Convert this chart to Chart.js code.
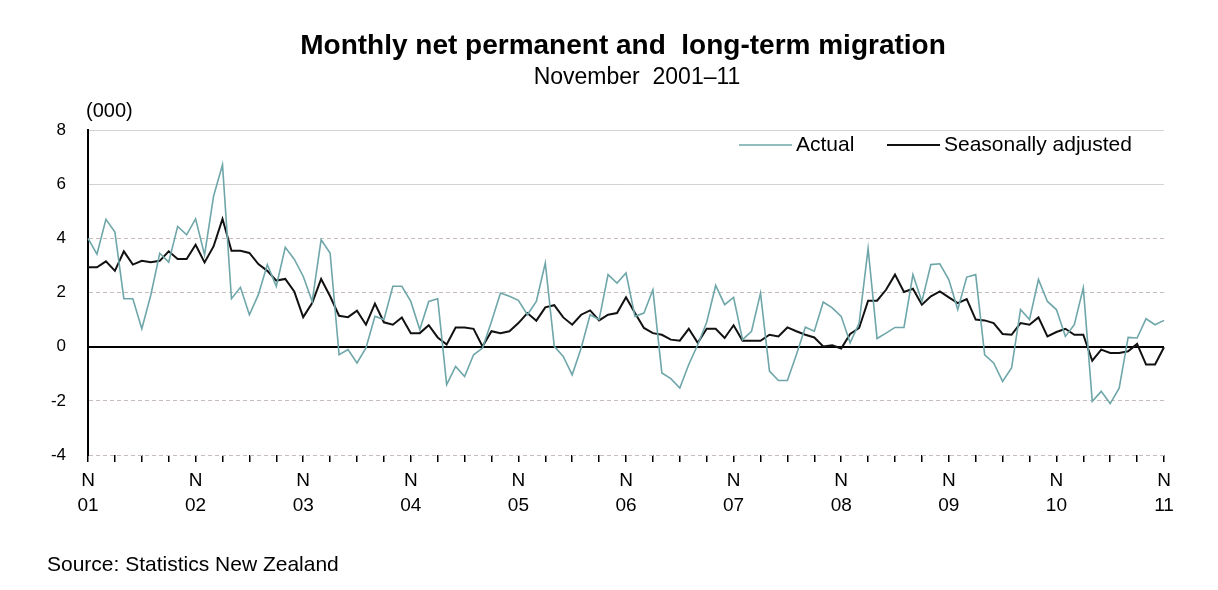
<!DOCTYPE html>
<html>
<head>
<meta charset="utf-8">
<title>Monthly net permanent and long-term migration</title>
<script src="https://cdn.jsdelivr.net/npm/chart.js@4.4.0/dist/chart.umd.min.js"></script>
<style>
  html, body { margin: 0; padding: 0; background: #fff; }
  #wrap { position: relative; width: 1218px; height: 590px; }
</style>
</head>
<body>
<div id="wrap"><canvas id="chart"></canvas></div>
<script>
// ---------- data (thousands) ----------
const yearLabels = ['01', '02', '03', '04', '05', '06', '07', '08', '09', '10', '11'];
const yTicks = [-4, -2, 0, 2, 4, 6, 8];

const actual = [
  4.0, 3.42, 4.7, 4.23, 1.77, 1.77, 0.66, 1.9, 3.45, 3.12,
  4.44, 4.13, 4.72, 3.39, 5.55, 6.72, 1.77, 2.19, 1.18, 1.92,
  3.03, 2.23, 3.67, 3.23, 2.6, 1.67, 3.95, 3.46, -0.3, -0.11,
  -0.6, -0.05, 1.12, 1.0, 2.23, 2.23, 1.67, 0.63, 1.67, 1.77,
  -1.4, -0.73, -1.1, -0.3, -0.05, 0.93, 1.98, 1.86, 1.71, 1.18,
  1.67, 3.09, 0.01, -0.36, -1.04, -0.05, 1.18, 1.0, 2.66, 2.35,
  2.72, 1.12, 1.24, 2.1, -0.97, -1.18, -1.53, -0.66, 0.07, 0.9,
  2.26, 1.55, 1.82, 0.26, 0.57, 1.98, -0.9, -1.25, -1.25, -0.3,
  0.72, 0.57, 1.65, 1.43, 1.12, 0.14, 0.87, 3.62, 0.3, 0.5,
  0.71, 0.71, 2.66, 1.67, 3.03, 3.06, 2.48, 1.37, 2.57, 2.66,
  -0.3, -0.6, -1.28, -0.79, 1.37, 1.0, 2.48, 1.67, 1.37, 0.38,
  0.81, 2.17, -2.02, -1.65, -2.1, -1.53, 0.34, 0.32, 1.03, 0.81,
  0.97
];

const seasonallyAdjusted = [
  2.93, 2.93, 3.15, 2.8, 3.52, 3.03, 3.17, 3.12, 3.17, 3.52,
  3.24, 3.24, 3.76, 3.11, 3.7, 4.72, 3.54, 3.54, 3.46, 3.05,
  2.8, 2.44, 2.5, 2.04, 1.09, 1.61, 2.5, 1.86, 1.14, 1.09,
  1.33, 0.81, 1.59, 0.9, 0.81, 1.08, 0.5, 0.5, 0.79, 0.34,
  0.08, 0.71, 0.71, 0.66, 0.01, 0.57, 0.5, 0.57, 0.87, 1.24,
  0.96, 1.45, 1.53, 1.08, 0.81, 1.18, 1.34, 0.97, 1.18, 1.24,
  1.82, 1.24, 0.69, 0.5, 0.44, 0.26, 0.22, 0.66, 0.14, 0.66,
  0.66, 0.32, 0.79, 0.22, 0.22, 0.22, 0.44, 0.38, 0.71, 0.57,
  0.44, 0.34, 0.01, 0.05, -0.07, 0.47, 0.69, 1.7, 1.7, 2.1,
  2.66, 2.02, 2.14, 1.55, 1.86, 2.04, 1.82, 1.61, 1.76, 1.0,
  0.97, 0.87, 0.47, 0.44, 0.87, 0.81, 1.08, 0.38, 0.54, 0.66,
  0.44, 0.44, -0.52, -0.11, -0.23, -0.23, -0.17, 0.1, -0.66, -0.66,
  -0.02
];

// monthly categories, Nov 2001 .. Nov 2011
const monthNames = ['Jan', 'Feb', 'Mar', 'Apr', 'May', 'Jun', 'Jul', 'Aug', 'Sep', 'Oct', 'Nov', 'Dec'];
const months = [];
for (let i = 0; i < actual.length; i++) {
  const m = (10 + i) % 12;
  const y = 2001 + Math.floor((10 + i) / 12);
  months.push(monthNames[m] + ' ' + y);
}

// ---------- texts drawn around the plot ----------
const FONT = '"Liberation Sans", Arial, sans-serif';
const textPlugin = {
  id: 'textPlugin',
  afterDraw(chart) {
    const ctx = chart.ctx;
    ctx.save();
    ctx.fillStyle = '#000';
    ctx.textBaseline = 'middle';

    ctx.textAlign = 'center';
    ctx.font = 'bold 28px ' + FONT;
    ctx.fillText('Monthly net permanent and  long-term migration', 623, 46);
    ctx.font = '23px ' + FONT;
    ctx.fillText('November  2001\u201311', 637, 78);

    ctx.textAlign = 'left';
    ctx.font = '20px ' + FONT;
    ctx.fillText('(000)', 86, 111);
    ctx.font = '21px ' + FONT;
    ctx.fillText('Source: Statistics New Zealand', 47, 565);

    // legend inside the plot, top right
    const legendX = [739, 887];
    ctx.font = '21px ' + FONT;
    chart.data.datasets.forEach((ds, i) => {
      const x = legendX[i];
      ctx.strokeStyle = ds.borderColor;
      ctx.lineWidth = ds.borderWidth;
      ctx.beginPath();
      ctx.moveTo(x, 145);
      ctx.lineTo(x + 53, 145);
      ctx.stroke();
      ctx.fillText(ds.label, x + 57, 145);
    });
    ctx.restore();
  }
};

Chart.defaults.font.family = FONT;
Chart.defaults.color = '#000';

new Chart(document.getElementById('chart'), {
  type: 'line',
  data: {
    labels: months,
    datasets: [
      {
        label: 'Actual',
        data: actual,
        borderColor: '#6ea6a9',
        borderWidth: 1.6,
        pointRadius: 0,
        tension: 0,
      },
      {
        label: 'Seasonally adjusted',
        data: seasonallyAdjusted,
        borderColor: '#111',
        borderWidth: 2,
        pointRadius: 0,
        tension: 0,
      },
    ],
  },
  options: {
    responsive: true,
    maintainAspectRatio: false,
    animation: false,
    layout: { padding: { left: 0, top: 130, right: 54, bottom: 55 } },
    plugins: {
      legend: { display: false },
      tooltip: { enabled: false },
    },
    scales: {
      x: {
        offset: false,
        afterFit: (scale) => { scale.height = 80; },
        border: { display: false },
        grid: {
          drawOnChartArea: false,
          drawTicks: true,
          tickLength: 7,
          lineWidth: 1.5,
          tickColor: (ctx) => (ctx.index % 3 === 0 ? '#000' : 'rgba(0,0,0,0)'),
        },
        ticks: {
          autoSkip: false,
          maxRotation: 0,
          minRotation: 0,
          padding: 6,
          font: { size: 19, lineHeight: 1.316 },
          callback: (value, index) => (index % 12 === 0 ? ['N', yearLabels[index / 12]] : ''),
        },
      },
      y: {
        min: -4,
        max: 8,
        afterFit: (scale) => { scale.width = 88; },
        afterBuildTicks: (scale) => { scale.ticks = yTicks.map((v) => ({ value: v })); },
        border: {
          display: true,
          color: '#000',
          width: 2,
          dash: (ctx) => (ctx.tick && [4, 2, -2, -4].includes(ctx.tick.value) ? [4, 3] : []),
        },
        grid: {
          drawTicks: false,
          color: (ctx) => (ctx.tick && ctx.tick.value === 0 ? '#000' : (ctx.tick && ctx.tick.value > 4 ? '#d2d2d2' : '#c9bcbc')),
          lineWidth: (ctx) => (ctx.tick && ctx.tick.value === 0 ? 2 : 1),
        },
        ticks: {
          padding: 22,
          font: { size: 17 },
        },
      },
    },
  },
  plugins: [textPlugin],
});
</script>
</body>
</html>
